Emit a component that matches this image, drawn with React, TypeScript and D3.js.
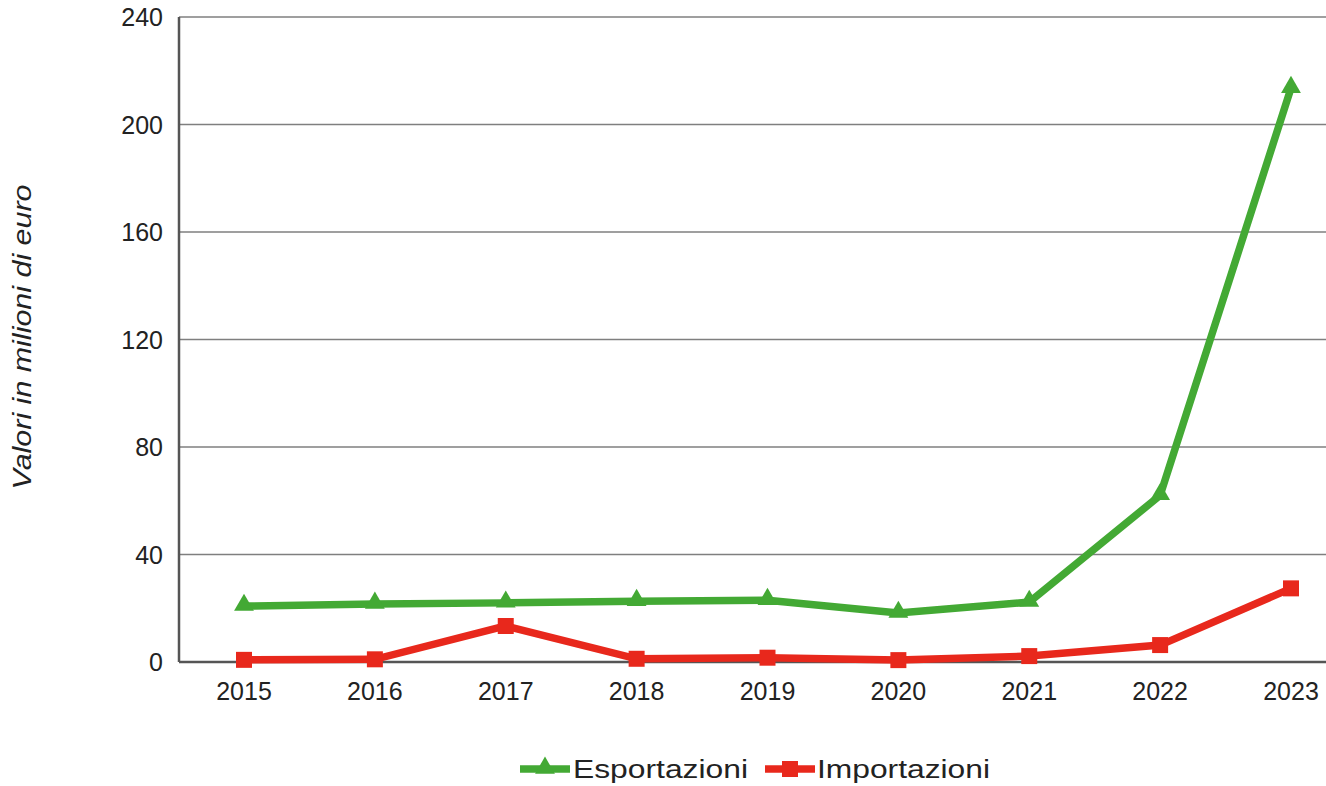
import React from "react";
import * as d3 from "d3";

const years = ["2015", "2016", "2017", "2018", "2019", "2020", "2021", "2022", "2023"];
const esportazioni = [20.8, 21.6, 22.0, 22.6, 23.0, 18.2, 22.3, 62.0, 213.5];
const importazioni = [0.8, 1.0, 13.4, 1.2, 1.6, 0.7, 2.2, 6.3, 27.4];
const yTicks = [0, 40, 80, 120, 160, 200, 240];
const seriesNames = ["Esportazioni", "Importazioni"];

const W = 1326;
const H = 786;
const GREEN = "#43a934";
const RED = "#e8281c";
const FONT = "'Liberation Sans', Arial, sans-serif";

export default function App() {
  const x = d3.scalePoint<string>().domain(years).range([244, 1291]);
  const y = d3.scaleLinear().domain([0, 240]).range([662, 17]);
  const left = 179;
  const right = W;

  const line = d3
    .line<number>()
    .x((_, i) => x(years[i]) as number)
    .y((d) => y(d));

  const tri = d3.symbol().type(d3.symbolTriangle).size(170);
  const sq = d3.symbol().type(d3.symbolSquare).size(256);

  return (
    <svg
      width={W}
      height={H}
      style={{ position: "absolute", left: 0, top: 0, background: "#fff" }}
      fontFamily={FONT}
    >
      {yTicks.filter((t) => t > 0).map((t) => (
        <line key={t} x1={left} x2={right} y1={y(t)} y2={y(t)} stroke="#7f7f7f" strokeWidth={1.6} />
      ))}
      <line x1={left} x2={left} y1={y(240)} y2={y(0)} stroke="#555" strokeWidth={2.5} />
      <line x1={left} x2={right} y1={y(0)} y2={y(0)} stroke="#555" strokeWidth={2.5} />
      {yTicks.map((t) => (
        <text key={t} x={163} y={y(t) + 9} textAnchor="end" fontSize={25} fill="#222">
          {t}
        </text>
      ))}
      {years.map((yr) => (
        <text key={yr} x={x(yr)} y={700} textAnchor="middle" fontSize={25} fill="#222">
          {yr}
        </text>
      ))}
      <text
        transform={`translate(31,337) rotate(-90)`}
        textAnchor="middle"
        fontSize={25}
        fontStyle="italic"
        fill="#222"
        textLength={305}
        lengthAdjust="spacingAndGlyphs"
      >
        Valori in milioni di euro
      </text>
      <path d={line(esportazioni) || ""} fill="none" stroke={GREEN} strokeWidth={7.5} strokeLinejoin="miter" />
      <path d={line(importazioni) || ""} fill="none" stroke={RED} strokeWidth={7.5} strokeLinejoin="miter" />
      {esportazioni.map((v, i) => (
        <path key={"e" + i} d={tri() || ""} transform={`translate(${x(years[i])},${y(v) - 1})`} fill={GREEN} />
      ))}
      {importazioni.map((v, i) => (
        <path key={"i" + i} d={sq() || ""} transform={`translate(${x(years[i])},${y(v)})`} fill={RED} />
      ))}
      <g>
        <line x1={520} x2={570} y1={769} y2={769} stroke={GREEN} strokeWidth={7.5} />
        <path d={tri() || ""} transform="translate(545,768)" fill={GREEN} />
        <text x={573} y={778} fontSize={25} fill="#222" textLength={175} lengthAdjust="spacingAndGlyphs">
          {seriesNames[0]}
        </text>
        <line x1={765} x2={815} y1={769} y2={769} stroke={RED} strokeWidth={7.5} />
        <path d={sq() || ""} transform="translate(790,769)" fill={RED} />
        <text x={817} y={778} fontSize={25} fill="#222" textLength={173} lengthAdjust="spacingAndGlyphs">
          {seriesNames[1]}
        </text>
      </g>
    </svg>
  );
}
